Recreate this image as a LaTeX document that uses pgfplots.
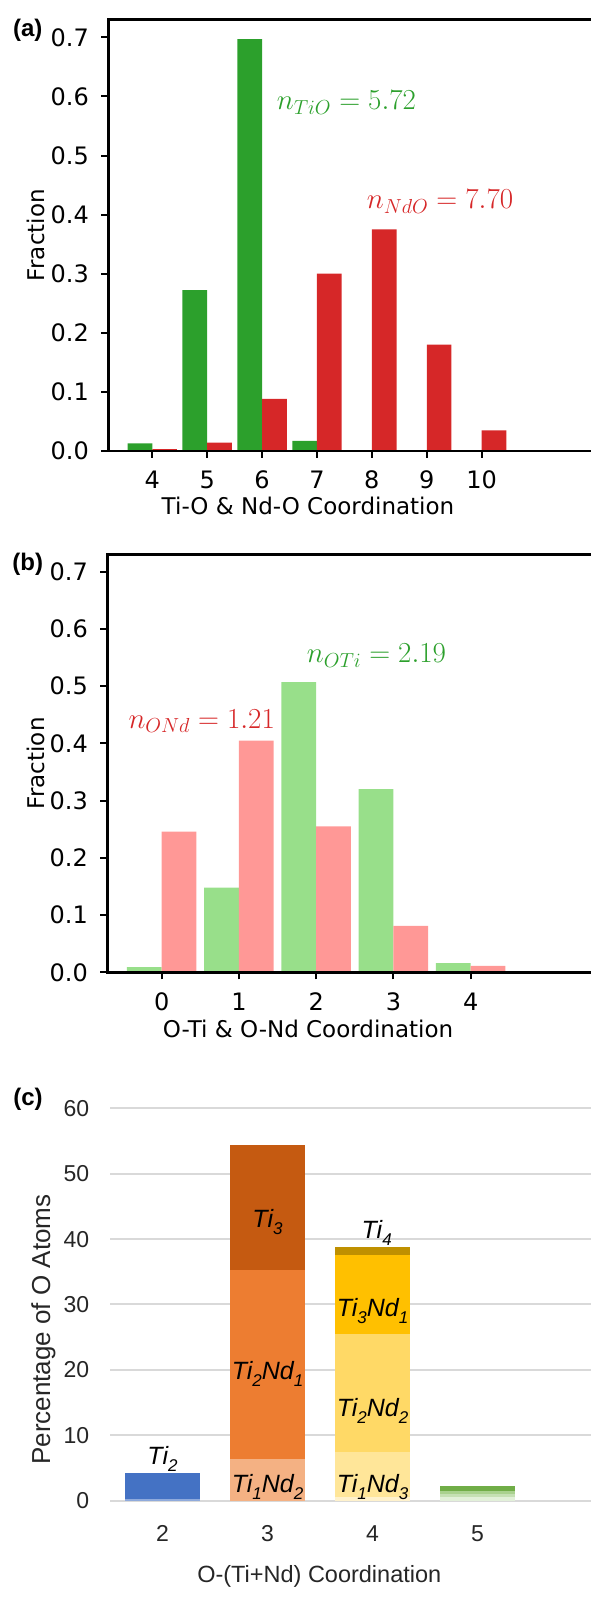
\RequirePackage{fix-cm}
\documentclass[border=0pt]{standalone}
\usepackage{fontspec}
\setmainfont{DejaVu Sans}
\newfontfamily\xlfont{Liberation Sans}
\usepackage{pgfplots}
\pgfplotsset{compat=1.18}
\usepackage{pgfplotstable}

% matplotlib "tab" colours
\definecolor{tabgreen}{HTML}{2CA02C}
\definecolor{tabred}{HTML}{D62728}
\definecolor{ltgreen}{HTML}{98DF8A}
\definecolor{ltred}{HTML}{FF9896}
% spreadsheet palette
\definecolor{xgrid}{HTML}{D9D9D9}
\definecolor{xtext}{HTML}{262626}
\definecolor{blueA}{HTML}{8FAADC}
\definecolor{blueB}{HTML}{4472C4}
\definecolor{orA}{HTML}{F4B183}
\definecolor{orB}{HTML}{ED7D31}
\definecolor{orC}{HTML}{C55A11}
\definecolor{yeA}{HTML}{FFF2CC}
\definecolor{yeB}{HTML}{FFE699}
\definecolor{yeC}{HTML}{FFD966}
\definecolor{yeD}{HTML}{FFC000}
\definecolor{yeE}{HTML}{BF9000}
\definecolor{grA}{HTML}{E2F0D9}
\definecolor{grB}{HTML}{C5E0B4}
\definecolor{grC}{HTML}{A9D18E}
\definecolor{grD}{HTML}{70AD47}

% Ti-O and Nd-O coordination fractions
\pgfplotstableread{
x   TiO    NdO
4   0.013  0.003
5   0.272  0.014
6   0.697  0.088
7   0.017  0.300
8   0      0.375
9   0      0.180
10  0      0.035
}\cationtab

% O-Ti and O-Nd coordination fractions
\pgfplotstableread{
x   OTi    ONd
0   0.009  0.246
1   0.148  0.405
2   0.507  0.255
3   0.320  0.081
4   0.016  0.011
}\oxygentab

% percentage of O atoms by neighbour composition
\pgfplotstableread{
x  TiaNda Tib  TiaNdb TibNda Tic   Ndd  TiaNdc TibNdb TicNda Tid  TiaNdd TibNdc TicNdb TidNda
2  0.3    4.0  0      0      0     0    0      0      0      0    0      0      0      0
3  0      0    6.4    28.9   19.1  0    0      0      0      0    0      0      0      0
4  0      0    0      0      0     0.5  7.0    18.0   12.1   1.2  0      0      0      0
5  0      0    0      0      0     0    0      0      0      0    0.5    0.5    0.5    0.8
}\stacktab

\DeclareRobustCommand{\sub}[1]{\raisebox{-7pt}{\fontsize{17}{20}\selectfont #1}}

\tikzset{
  seglabel/.style={anchor=base, inner sep=0pt, font=\xlfont\itshape\fontsize{25}{30}\selectfont},
  panel/.style={inner sep=0pt, font=\xlfont\bfseries\fontsize{24}{28}\selectfont},
}

\pgfplotsset{
  mplaxis/.style={
    scale only axis, axis on top,
    ymin=0, ymax=0.7305,
    ytick={0,0.1,0.2,0.3,0.4,0.5,0.6,0.7},
    xtick pos=left, ytick pos=left,
    tick align=outside, major tick length=7pt,
    every tick/.style={black, line width=2pt},
    axis line style={black, line width=2.6pt},
    /pgf/number format/assume math mode=true,
    tick label style={font=\fontsize{24}{28}\selectfont},
    y tick label style={/pgf/number format/fixed, /pgf/number format/fixed zerofill,
      /pgf/number format/precision=1, anchor=east, inner sep=0pt, xshift=-12.3pt},
    x tick label style={anchor=base, inner sep=0pt, yshift=-31pt},
    ylabel=Fraction,
  },
  mpllabels/.style 2 args={
    every axis x label/.style={at={(axis description cs:#1)}, anchor=base,
      font=\fontsize{23}{27}\selectfont},
    every axis y label/.style={at={(axis description cs:#2,0.5)}, rotate=90, anchor=center,
      font=\fontsize{23}{27}\selectfont},
  },
  % frame of panel (c), shared by the bars and their labels
  stackframe/.style={
    at={(110pt,97.3pt)}, anchor=south west,
    scale only axis, width=490pt, height=392.4pt,
    xmin=1.5, xmax=6.167, ymin=0, ymax=60,
  },
}

\begin{document}
\begin{tikzpicture}
\useasboundingbox (0pt,0pt) rectangle (590pt,1598pt);

% (a) cation-oxygen coordination
\begin{axis}[mplaxis,
  at={(108.3pt,1147pt)}, anchor=south west,
  width=491.7pt, height=431.7pt,
  xmin=3.199, xmax=12.155, xtick={4,5,6,7,8,9,10},
  xlabel={Ti-O \& Nd-O Coordination},
  mpllabels={0.4061,-0.146}{-0.1474},
]
\addplot[ybar, bar width=0.45, bar shift=-0.225, fill=tabgreen, draw=none] table[x=x, y=TiO] {\cationtab};
\addplot[ybar, bar width=0.45, bar shift=0.225, fill=tabred, draw=none] table[x=x, y=NdO] {\cationtab};
\node[anchor=base west, inner sep=0pt, text=tabgreen, font=\fontsize{29}{34}\selectfont]
  at (axis cs:6.266,0.577) {$n_{TiO} = 5.72$};
\node[anchor=base west, inner sep=0pt, text=tabred, font=\fontsize{29}{34}\selectfont]
  at (axis cs:7.905,0.4095) {$n_{NdO} = 7.70$};
\end{axis}

% (b) oxygen-cation coordination
\begin{axis}[mplaxis,
  at={(107.3pt,625.7pt)}, anchor=south west,
  width=492.7pt, height=418pt,
  xmin=-0.704, xmax=5.674, xtick={0,1,2,3,4},
  xlabel={O-Ti \& O-Nd Coordination},
  mpllabels={0.4073,-0.1548}{-0.1451},
]
\addplot[ybar, bar width=0.45, bar shift=-0.225, fill=ltgreen, draw=none] table[x=x, y=OTi] {\oxygentab};
\addplot[ybar, bar width=0.45, bar shift=0.225, fill=ltred, draw=none] table[x=x, y=ONd] {\oxygentab};
\node[anchor=base west, inner sep=0pt, text=tabgreen, font=\fontsize{29}{34}\selectfont]
  at (axis cs:1.877,0.541) {$n_{OTi} = 2.19$};
\node[anchor=base west, inner sep=0pt, text=tabred, font=\fontsize{29}{34}\selectfont]
  at (axis cs:-0.432,0.4264) {$n_{ONd} = 1.21$};
\end{axis}

% (c) O atoms by total cation coordination
\begin{axis}[stackframe,
  ybar stacked, bar width=0.714,
  xtick={2,3,4,5}, ytick={0,10,20,30,40,50,60},
  ymajorgrids, grid style={xgrid, line width=2pt},
  axis line style={draw=none}, major tick length=0pt,
  /pgf/number format/assume math mode=true,
  tick label style={font=\xlfont\fontsize{23}{27}\selectfont, text=xtext},
  y tick label style={anchor=east, inner sep=0pt, xshift=-20.7pt},
  x tick label style={anchor=base, inner sep=0pt, yshift=-41pt},
  xlabel={O-(Ti+Nd) Coordination},
  ylabel={Percentage of O Atoms},
  every axis x label/.style={at={(axis description cs:0.4271,-0.2097)}, anchor=base,
    font=\xlfont\fontsize{23.5}{28}\selectfont, text=xtext},
  every axis y label/.style={at={(axis description cs:-0.1361,0.436)}, rotate=90, anchor=center,
    font=\xlfont\fontsize{26}{30}\selectfont, text=xtext},
]
\addplot[fill=blueA, draw=none] table[x=x, y=TiaNda] {\stacktab};
\addplot[fill=blueB, draw=none] table[x=x, y=Tib] {\stacktab};
\addplot[fill=orA, draw=none] table[x=x, y=TiaNdb] {\stacktab};
\addplot[fill=orB, draw=none] table[x=x, y=TibNda] {\stacktab};
\addplot[fill=orC, draw=none] table[x=x, y=Tic] {\stacktab};
\addplot[fill=yeA, draw=none] table[x=x, y=Ndd] {\stacktab};
\addplot[fill=yeB, draw=none] table[x=x, y=TiaNdc] {\stacktab};
\addplot[fill=yeC, draw=none] table[x=x, y=TibNdb] {\stacktab};
\addplot[fill=yeD, draw=none] table[x=x, y=TicNda] {\stacktab};
\addplot[fill=yeE, draw=none] table[x=x, y=Tid] {\stacktab};
\addplot[fill=grA, draw=none] table[x=x, y=TiaNdd] {\stacktab};
\addplot[fill=grB, draw=none] table[x=x, y=TibNdc] {\stacktab};
\addplot[fill=grC, draw=none] table[x=x, y=TicNdb] {\stacktab};
\addplot[fill=grD, draw=none] table[x=x, y=TidNda] {\stacktab};
\end{axis}

% segment names, written over the bars in the same frame
\begin{axis}[stackframe, hide axis]
\node[seglabel] at (axis cs:2,5.6) {Ti\sub{2}};
\node[seglabel] at (axis cs:3,41.8) {Ti\sub{3}};
\node[seglabel] at (axis cs:3,18.5) {Ti\sub{2}Nd\sub{1}};
\node[seglabel] at (axis cs:3,1.2) {Ti\sub{1}Nd\sub{2}};
\node[seglabel] at (axis cs:4.04,40.1) {Ti\sub{4}};
\node[seglabel] at (axis cs:4,28.2) {Ti\sub{3}Nd\sub{1}};
\node[seglabel] at (axis cs:4,12.8) {Ti\sub{2}Nd\sub{2}};
\node[seglabel] at (axis cs:4,1.3) {Ti\sub{1}Nd\sub{3}};
\end{axis}

% panel letters
\node[panel] at (27.7pt,1568pt) {(a)};
\node[panel] at (27.7pt,1034pt) {(b)};
\node[panel] at (28pt,499pt) {(c)};
\end{tikzpicture}
\end{document}
